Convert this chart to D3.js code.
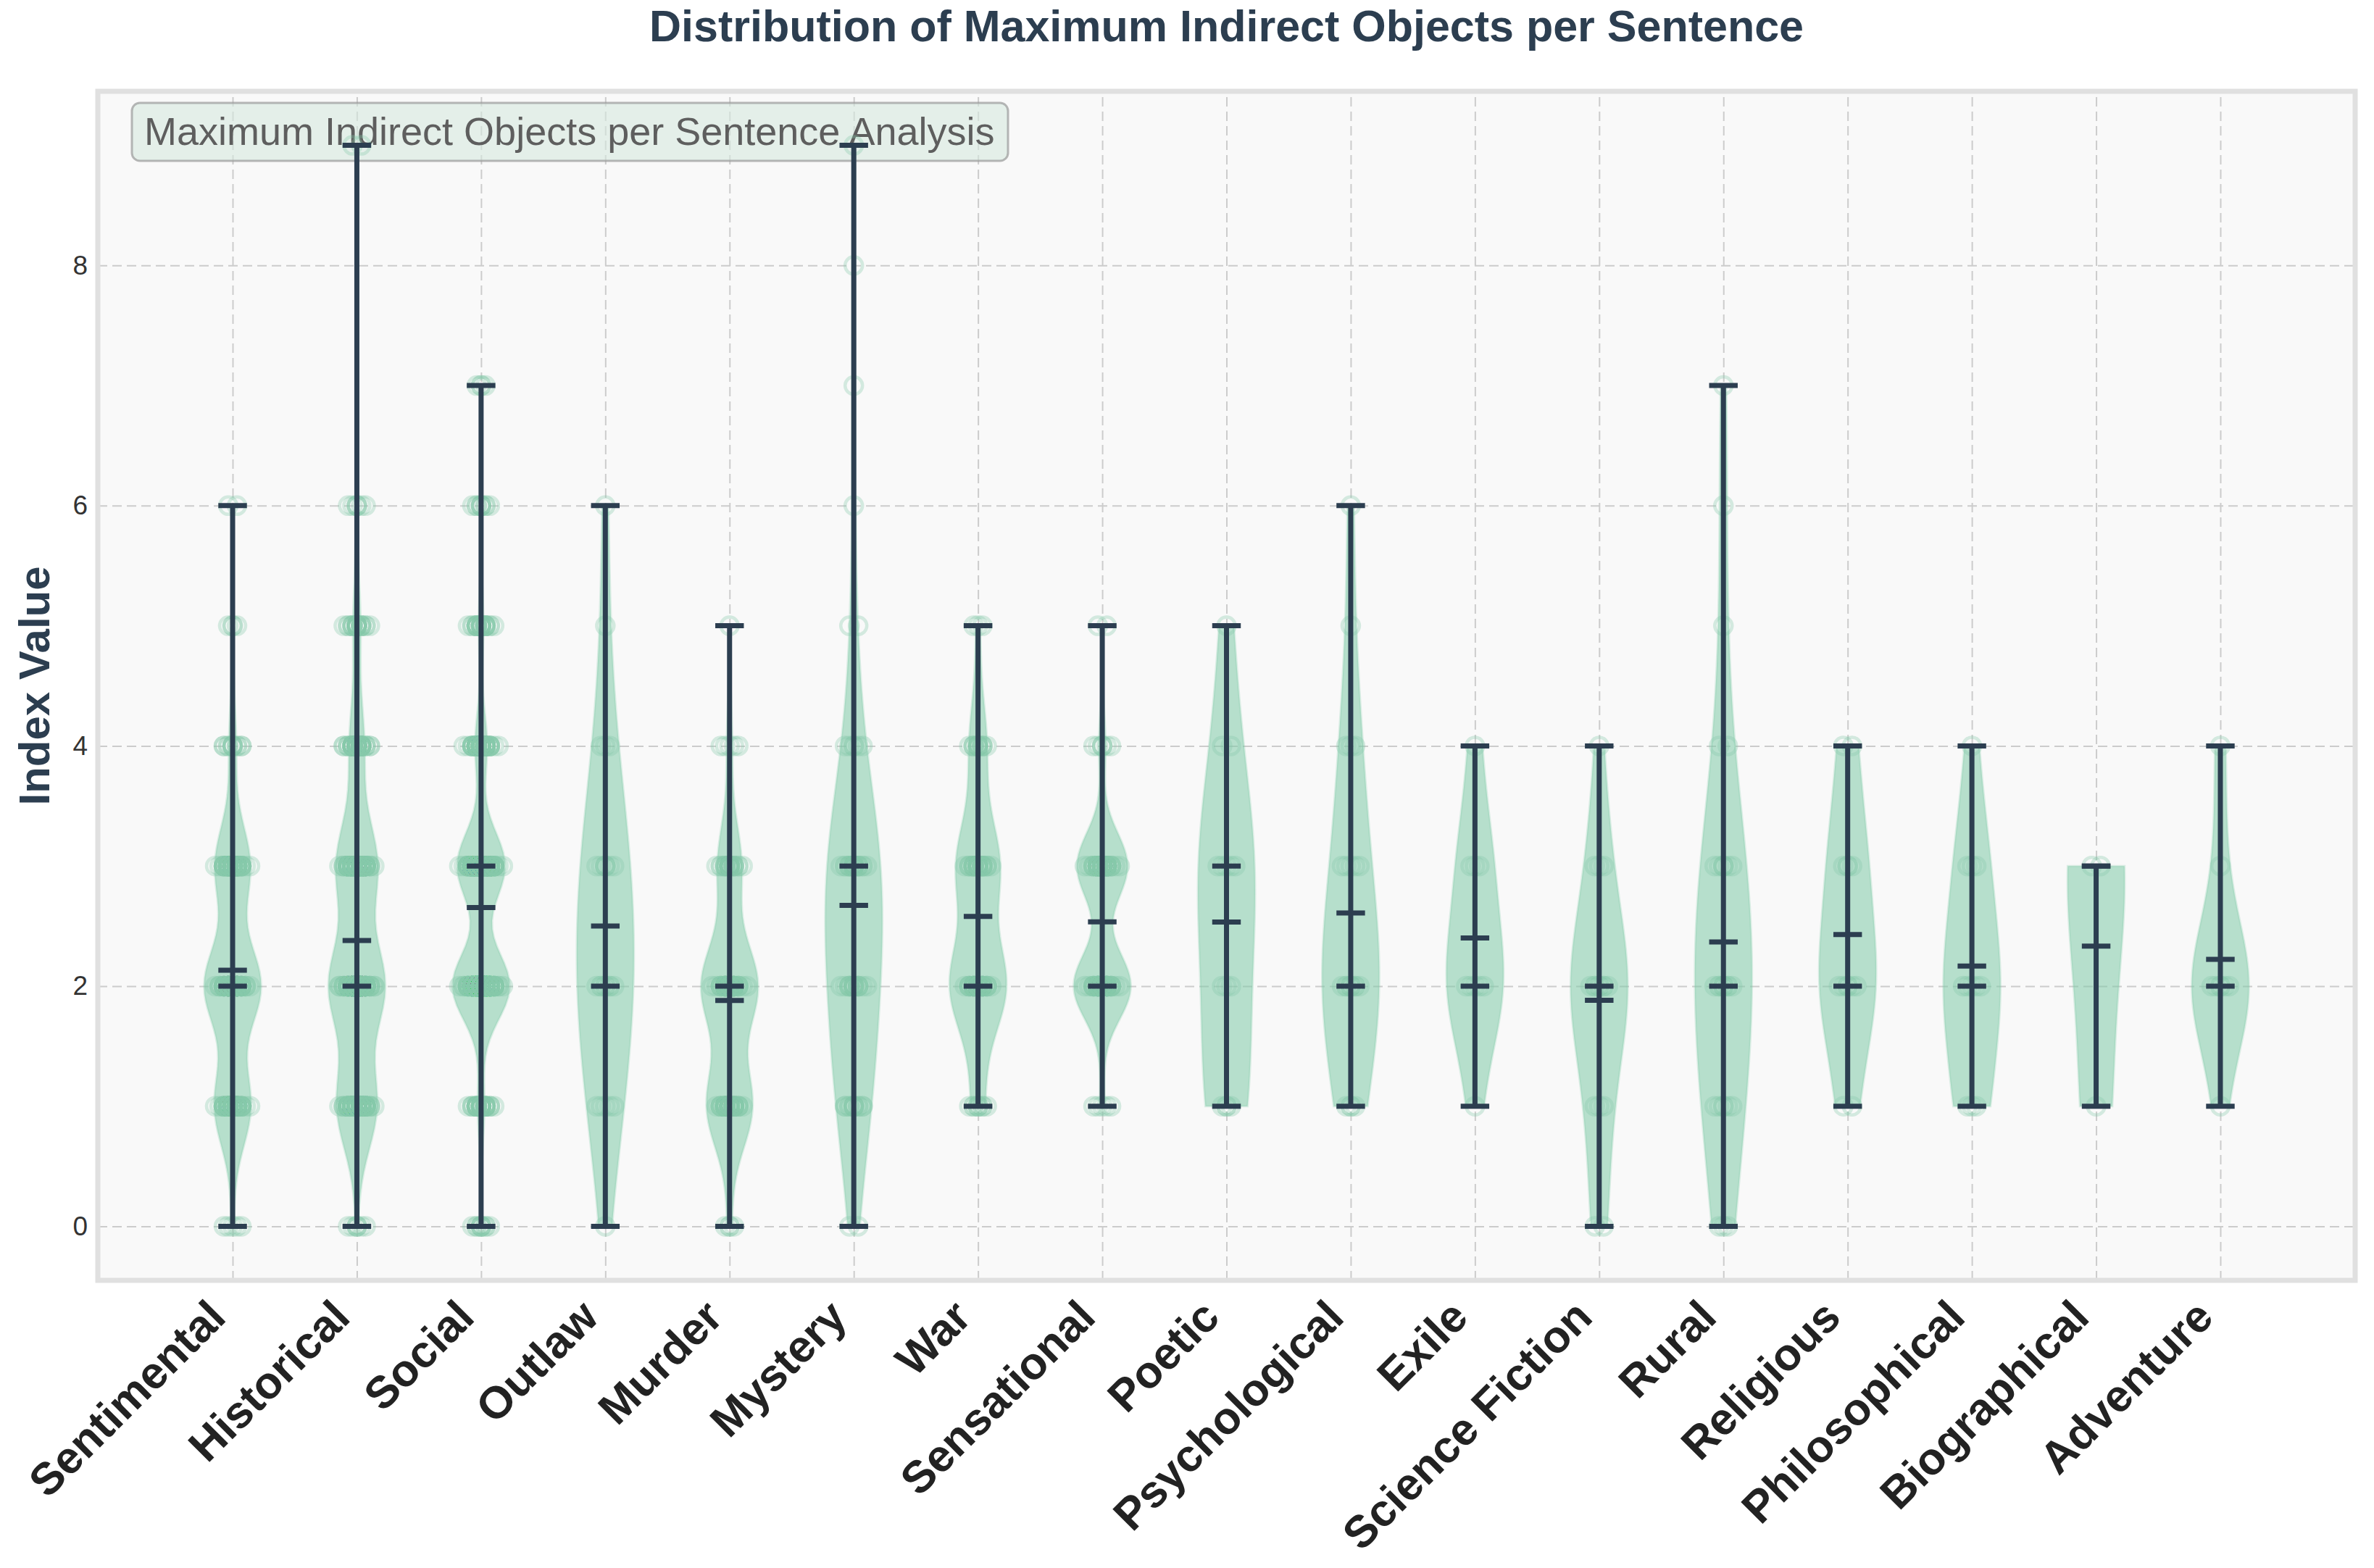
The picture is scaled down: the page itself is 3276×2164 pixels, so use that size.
<!DOCTYPE html>
<html>
<head>
<meta charset="utf-8">
<script src="https://cdn.jsdelivr.net/npm/d3@7"></script>
<style>
  html, body { margin: 0; padding: 0; background: #ffffff; }
  svg { display: block; font-family: "Liberation Sans", Arial, sans-serif; }
</style>
</head>
<body>
<div id="chart"></div>
<script>
// genres, in plotting order
var categories = ["Sentimental", "Historical", "Social", "Outlaw", "Murder", "Mystery", "War",
    "Sensational", "Poetic", "Psychological", "Exile", "Science Fiction", "Rural", "Religious",
    "Philosophical", "Biographical", "Adventure"];

// value levels found in the data (max indirect objects in a sentence)
var levels = [0, 1, 2, 3, 4, 5, 6, 7, 8, 9];

// how many sentences sit on each level, one row per genre (same order as categories)
var sentimental   = [5, 66, 103, 64, 13, 4, 2, 0, 0, 0];
var historical    = [7, 119, 167, 123, 44, 22, 7, 0, 0, 2];
var social        = [10, 35, 301, 252, 63, 25, 10, 4, 0, 0];
var outlaw        = [1, 5, 8, 7, 3, 1, 1, 0, 0, 0];
var murder        = [4, 42, 52, 22, 5, 1, 0, 0, 0, 0];
var mystery       = [2, 13, 18, 22, 6, 2, 1, 1, 1, 1];
var war           = [0, 9, 39, 30, 12, 3, 0, 0, 0, 0];
var sensational   = [0, 5, 60, 53, 7, 2, 0, 0, 0, 0];
var poetic        = [0, 4, 3, 5, 2, 1, 0, 0, 0, 0];
var psychological = [0, 4, 9, 5, 3, 1, 1, 0, 0, 0];
var exile         = [0, 1, 5, 3, 1, 0, 0, 0, 0, 0];
var scienceFic    = [2, 3, 8, 3, 1, 0, 0, 0, 0, 0];
var rural         = [3, 6, 9, 7, 2, 1, 1, 1, 0, 0];
var religious     = [0, 2, 6, 4, 2, 0, 0, 0, 0, 0];
var philosophical = [0, 3, 5, 3, 1, 0, 0, 0, 0, 0];
var biographical  = [0, 1, 0, 2, 0, 0, 0, 0, 0, 0];
var adventure     = [0, 1, 6, 1, 1, 0, 0, 0, 0, 0];

var levelCounts = [sentimental, historical, social, outlaw, murder, mystery, war, sensational,
    poetic, psychological, exile, scienceFic, rural, religious, philosophical, biographical, adventure];

var yTicks = [0, 2, 4, 6, 8];

var titleText = "Distribution of Maximum Indirect Objects per Sentence";
var yLabelText = "Index Value";
var boxText = "Maximum Indirect Objects per Sentence Analysis";

// ---- layout ----
var width = 3276,
    height = 2164;

var plot = { left: 135, right: 3250, top: 126, bottom: 1767 };

var violinColor = "#7fcba8",
    lineColor = "#2c3e50",
    ringColor = "#86c9a9";

var svg = d3.select("#chart")
    .append("svg")
    .attr("width", width)
    .attr("height", height);

var x = d3.scaleLinear()
    .domain([-0.085, categories.length + 1.085])
    .range([plot.left, plot.right]);

var y = d3.scaleLinear()
    .domain([-0.45, 9.45])
    .range([plot.bottom, plot.top]);

// expand counts to the raw values
var series = levelCounts.map(function (row, i) {
    var vals = [];
    row.forEach(function (c, k) {
        for (var j = 0; j < c; j++) vals.push(levels[k]);
    });
    return { name: categories[i], pos: i + 1, values: vals, counts: row };
});

// gaussian kde, scott bandwidth, like matplotlib's violinplot
function kde(values) {
    var n = values.length,
        sd = d3.deviation(values),
        bw = sd * Math.pow(n, -0.2),
        lo = d3.min(values),
        hi = d3.max(values);
    var pts = d3.range(100).map(function (i) { return lo + (hi - lo) * i / 99; });
    var norm = 1 / (n * bw * Math.sqrt(2 * Math.PI));
    return pts.map(function (t) {
        return [t, norm * d3.sum(values, function (v) { var z = (t - v) / bw; return Math.exp(-0.5 * z * z); })];
    });
}

// rough probit, used only to spread the rings sideways
function probit(p) {
    return Math.log(p / (1 - p)) / 1.702;
}

// background of the axes
svg.append("rect")
    .attr("x", plot.left)
    .attr("y", plot.top)
    .attr("width", plot.right - plot.left)
    .attr("height", plot.bottom - plot.top)
    .attr("fill", "#f9f9f9");

// grid
var gridY = svg.append("g")
    .attr("class", "grid-y")
    .attr("transform", "translate(" + plot.left + ",0)")
    .call(d3.axisLeft(y).tickValues(yTicks).tickSize(-(plot.right - plot.left)).tickFormat(""));

var gridX = svg.append("g")
    .attr("class", "grid-x")
    .attr("transform", "translate(0," + plot.bottom + ")")
    .call(d3.axisBottom(x).tickValues(series.map(function (d) { return d.pos; }))
        .tickSize(-(plot.bottom - plot.top)).tickFormat(""));

svg.selectAll(".grid-y .domain, .grid-x .domain").remove();
svg.selectAll(".grid-y line, .grid-x line")
    .attr("stroke", "#cccccc")
    .attr("stroke-width", 2)
    .attr("stroke-dasharray", "13,7");

// annotation box in the top left corner
var box = svg.append("g").attr("class", "note");
box.append("rect")
    .attr("x", 182)
    .attr("y", 142)
    .attr("width", 1209)
    .attr("height", 80)
    .attr("rx", 11)
    .attr("fill", "#d5e8de")
    .attr("fill-opacity", 0.6)
    .attr("stroke", "#9a9a9a")
    .attr("stroke-opacity", 0.7)
    .attr("stroke-width", 3);
box.append("text")
    .attr("x", 199)
    .attr("y", 200)
    .attr("font-size", 54)
    .attr("fill", "#5e5e5e")
    .text(boxText);

// violin bodies
var halfWidth = 0.46 / 2;

var bodies = svg.append("g").attr("class", "bodies");
series.forEach(function (s) {
    var dens = kde(s.values);
    var maxD = d3.max(dens, function (d) { return d[1]; });
    var area = d3.area()
        .y(function (d) { return y(d[0]); })
        .x0(function (d) { return x(s.pos - halfWidth * d[1] / maxD); })
        .x1(function (d) { return x(s.pos + halfWidth * d[1] / maxD); });
    bodies.append("path")
        .datum(dens)
        .attr("d", area)
        .attr("fill", violinColor)
        .attr("fill-opacity", 0.55)
        .attr("stroke", violinColor)
        .attr("stroke-opacity", 0.25)
        .attr("stroke-width", 3);
});

// jittered points, hollow rings; offsets snapped so stacked rings read as outlines
var rings = svg.append("g").attr("class", "rings");
series.forEach(function (s) {
    var pts = [];
    s.counts.forEach(function (c, k) {
        for (var j = 0; j < c; j++) {
            var off = c === 1 ? 0 : 0.045 * probit((j + 0.5) / c);
            off = Math.round(off / 0.035) * 0.035;
            pts.push({ v: levels[k], dx: off });
        }
    });
    rings.selectAll(null)
        .data(pts)
        .enter().append("circle")
        .attr("cx", function (d) { return x(s.pos + d.dx); })
        .attr("cy", function (d) { return y(d.v); })
        .attr("r", 12)
        .attr("fill", "none")
        .attr("stroke", ringColor)
        .attr("stroke-opacity", 0.33)
        .attr("stroke-width", 4.5);
});

// extrema, mean and median bars
var capHalf = 0.46 * 0.25;
var stats = svg.append("g").attr("class", "stats")
    .attr("stroke", lineColor)
    .attr("stroke-width", 7);

series.forEach(function (s) {
    var lo = d3.min(s.values),
        hi = d3.max(s.values),
        mean = d3.mean(s.values),
        med = d3.median(s.values);
    stats.append("line")
        .attr("x1", x(s.pos)).attr("x2", x(s.pos))
        .attr("y1", y(lo)).attr("y2", y(hi));
    [lo, hi, mean, med].forEach(function (v) {
        stats.append("line")
            .attr("x1", x(s.pos - capHalf)).attr("x2", x(s.pos + capHalf))
            .attr("y1", y(v)).attr("y2", y(v));
    });
});

// frame
svg.append("rect")
    .attr("x", plot.left)
    .attr("y", plot.top)
    .attr("width", plot.right - plot.left)
    .attr("height", plot.bottom - plot.top)
    .attr("fill", "none")
    .attr("stroke", "#e0e0e0")
    .attr("stroke-width", 7);

// y axis labels
var yAxis = svg.append("g")
    .attr("transform", "translate(" + plot.left + ",0)")
    .call(d3.axisLeft(y).tickValues(yTicks).tickSize(0).tickPadding(14));
yAxis.select(".domain").remove();
yAxis.selectAll("text")
    .attr("font-family", "Liberation Sans, Arial, sans-serif")
    .attr("font-size", 37)
    .attr("fill", "#333333");

// x axis labels, rotated
var xAxis = svg.append("g")
    .attr("transform", "translate(0," + plot.bottom + ")")
    .call(d3.axisBottom(x).tickValues(series.map(function (d) { return d.pos; }))
        .tickFormat(function (d) { return categories[d - 1]; })
        .tickSize(0));
xAxis.select(".domain").remove();
xAxis.selectAll("text")
    .attr("x", 0)
    .attr("y", 0)
    .attr("dy", 0)
    .attr("transform", "translate(-7,54) rotate(-45)")
    .attr("text-anchor", "end")
    .attr("font-family", "Liberation Sans, Arial, sans-serif")
    .attr("font-size", 62)
    .attr("font-weight", "bold")
    .attr("fill", "#222222");

// y title
svg.append("text")
    .attr("transform", "translate(68," + ((plot.top + plot.bottom) / 2) + ") rotate(-90)")
    .attr("text-anchor", "middle")
    .attr("font-size", 60)
    .attr("font-weight", "bold")
    .attr("fill", "#2c3e50")
    .text(yLabelText);

// title
svg.append("text")
    .attr("x", (plot.left + plot.right) / 2)
    .attr("y", 57)
    .attr("text-anchor", "middle")
    .attr("font-size", 61)
    .attr("font-weight", "bold")
    .attr("fill", "#2c3e50")
    .text(titleText);
</script>
</body>
</html>
